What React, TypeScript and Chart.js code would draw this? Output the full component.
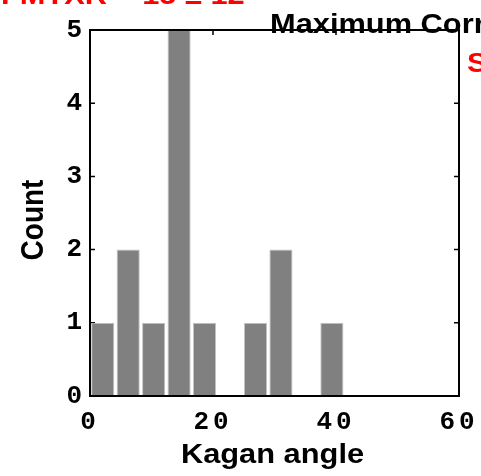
import React, { useEffect, useRef } from 'react';
import { Chart, registerables } from 'chart.js';

Chart.register(...registerables);

// ---- data ----
const binCenters = [2.07, 6.21, 10.35, 14.49, 18.63, 22.77, 26.91, 31.05, 35.19, 39.33];
const counts = [1, 2, 1, 5, 1, 0, 1, 2, 0, 1];
const xMin = 0;
const xMax = 60;
const xStep = 20;
const yMin = 0;
const yMax = 5;
const yStep = 1;
const xTitle = 'Kagan angle';
const yTitle = 'Count';
const redTitle = 'FMTXR = 15 ± 12';
const blackTitle = 'Maximum Correlation';
const redSub = 'S';

const W = 481;
const H = 476;
const SX = 1.1; // horizontal stretch of the reference text

function stretchedText(ctx: CanvasRenderingContext2D, text: string, x: number, y: number, align: CanvasTextAlign) {
  ctx.save();
  ctx.translate(x, y);
  ctx.scale(SX, 1);
  ctx.textAlign = align;
  ctx.textBaseline = 'alphabetic';
  ctx.fillText(text, 0, 0);
  ctx.restore();
}

const decorPlugin = {
  id: 'decor',
  beforeDraw(chart: any) {
    (chart.ctx as any).letterSpacing = '4px';
  },
  beforeDatasetsDraw(chart: any) {
    const ctx: CanvasRenderingContext2D = chart.ctx;
    (ctx as any).letterSpacing = '0px';
    const { left, right, top, bottom } = chart.chartArea;
    const xs = chart.scales.x;
    const ys = chart.scales.y;
    ctx.save();
    ctx.strokeStyle = '#000';
    ctx.lineWidth = 1.5;
    ctx.beginPath();
    xs.ticks.forEach((t: any) => {
      const px = xs.getPixelForValue(t.value);
      if (px <= left + 1 || px >= right - 1) return;
      ctx.moveTo(px, top);
      ctx.lineTo(px, top + 5);
      ctx.moveTo(px, bottom);
      ctx.lineTo(px, bottom - 5);
    });
    ys.ticks.forEach((t: any) => {
      const py = ys.getPixelForValue(t.value);
      if (py <= top + 1 || py >= bottom - 1) return;
      ctx.moveTo(left, py);
      ctx.lineTo(left + 5, py);
      ctx.moveTo(right, py);
      ctx.lineTo(right - 5, py);
    });
    ctx.stroke();
    ctx.restore();
  },
  afterDatasetsDraw(chart: any) {
    const ctx: CanvasRenderingContext2D = chart.ctx;
    const { left, right, top, bottom } = chart.chartArea;
    ctx.save();
    ctx.strokeStyle = '#000';
    ctx.lineWidth = 2;
    ctx.strokeRect(left, top, right - left, bottom - top);
    ctx.restore();
  },
  afterDraw(chart: any) {
    const ctx: CanvasRenderingContext2D = chart.ctx;
    (ctx as any).letterSpacing = '0px';
    const { left, right } = chart.chartArea;
    ctx.save();
    ctx.font = 'bold 28px "Liberation Sans", Arial, sans-serif';
    // red header (cut off at the top of the picture)
    ctx.fillStyle = '#ff0000';
    stretchedText(ctx, redTitle, 1, 4, 'left');
    // black header
    ctx.fillStyle = '#000';
    stretchedText(ctx, blackTitle, 270, 33, 'left');
    // red sub header on the right
    ctx.fillStyle = '#ff0000';
    stretchedText(ctx, redSub, 467, 72, 'left');
    // axis titles
    ctx.fillStyle = '#000';
    stretchedText(ctx, xTitle, (left + right) / 2 - 2, 463, 'center');
    ctx.save();
    ctx.translate(43, 220);
    ctx.rotate(-Math.PI / 2);
    ctx.scale(1, SX);
    ctx.textAlign = 'center';
    ctx.textBaseline = 'alphabetic';
    ctx.fillText(yTitle, 0, 0);
    ctx.restore();
    ctx.restore();
  },
};

const tickFont = { family: '"Liberation Mono", "Courier New", monospace', weight: 'bold', size: 26 };

export default function App() {
  const canvasRef = useRef<HTMLCanvasElement | null>(null);

  useEffect(() => {
    document.body.style.margin = '0';
    const canvas = canvasRef.current;
    if (!canvas) return;
    const chart = new Chart(canvas, {
      type: 'bar',
      data: {
        datasets: [
          {
            data: binCenters.map((c, i) => ({ x: c, y: counts[i] })),
            backgroundColor: '#808080',
            borderColor: '#c4c4c4',
            borderWidth: 1,
            barPercentage: 0.91,
            categoryPercentage: 1,
          },
        ],
      },
      options: {
        animation: false,
        responsive: false,
        devicePixelRatio: 1,
        layout: { padding: { left: 0, right: 22, top: 30, bottom: 0 } },
        plugins: {
          legend: { display: false },
          tooltip: { enabled: false },
          title: { display: false },
        },
        scales: {
          x: {
            type: 'linear',
            min: xMin,
            max: xMax,
            offset: false,
            grid: { display: false, drawTicks: false },
            border: { display: false },
            ticks: {
              stepSize: xStep,
              color: '#000',
              padding: 11,
              maxRotation: 0,
              font: tickFont,
            },
            afterFit: (s: any) => {
              s.height = 80;
              s.paddingLeft = 0;
              s.paddingRight = 0;
            },
          },
          y: {
            type: 'linear',
            min: yMin,
            max: yMax,
            grid: { display: false, drawTicks: false },
            border: { display: false },
            ticks: {
              stepSize: yStep,
              color: '#000',
              padding: 4,
              font: tickFont,
            },
            afterFit: (s: any) => {
              s.width = 90;
              s.paddingTop = 0;
              s.paddingBottom = 0;
            },
          },
        },
      } as any,
      plugins: [decorPlugin],
    });
    return () => chart.destroy();
  }, []);

  return <canvas ref={canvasRef} width={W} height={H} style={{ display: 'block', width: W, height: H }} />;
}
